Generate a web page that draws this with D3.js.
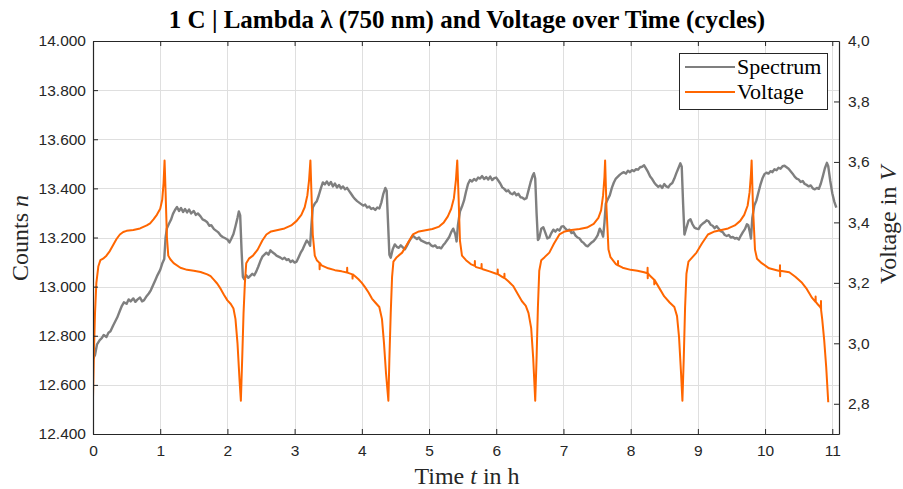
<!DOCTYPE html>
<html>
<head>
<meta charset="utf-8">
<script src="https://cdn.jsdelivr.net/npm/d3@7"></script>
<style>
  html, body { margin: 0; padding: 0; background: #fff; }
  svg { display: block; }
</style>
</head>
<body>
<svg id="chart" width="903" height="489"></svg>
<script>
// ---------------- DATA ----------------
const titleText = "1 C | Lambda λ (750 nm) and Voltage over Time (cycles)";
const seriesNames = ["Spectrum", "Voltage"];
const xTicks = [0, 1, 2, 3, 4, 5, 6, 7, 8, 9, 10, 11];
const leftTicks = [12400, 12600, 12800, 13000, 13200, 13400, 13600, 13800, 14000];
const rightTicks = [2.8, 3.0, 3.2, 3.4, 3.6, 3.8, 4.0];
const xDomain = [0, 11.1];
const leftDomain = [12400, 14000];
const rightDomain = [2.7, 4.0];

// Spectrum counts [time h, counts]
const spectrum = [
  [0.00,12705],[0.03,12722],[0.06,12765],[0.10,12782],[0.13,12790],[0.16,12803],[0.20,12795],[0.23,12812],[0.26,12818],
  [0.30,12842],[0.33,12858],[0.36,12874],[0.40,12902],[0.43,12922],[0.46,12936],[0.50,12930],[0.53,12948],[0.56,12940],
  [0.60,12952],[0.63,12938],[0.66,12947],[0.70,12956],[0.73,12940],[0.76,12945],[0.80,12962],[0.83,12972],[0.86,12985],
  [0.90,13010],[0.93,13028],[0.96,13047],[1.00,13068],[1.03,13094],[1.06,13112],[1.08,13200],[1.10,13238],[1.13,13256],
  [1.16,13272],[1.19,13296],[1.22,13312],[1.25,13324],[1.28,13308],[1.31,13320],[1.34,13304],[1.37,13316],[1.40,13302],
  [1.43,13314],[1.46,13298],[1.50,13308],[1.53,13292],[1.56,13298],[1.60,13286],[1.63,13274],[1.66,13270],[1.70,13262],
  [1.73,13248],[1.76,13250],[1.80,13234],[1.83,13228],[1.86,13222],[1.90,13208],[1.93,13202],[1.96,13198],[2.00,13192],
  [2.03,13180],[2.06,13196],[2.09,13214],[2.12,13246],[2.15,13280],[2.17,13306],[2.19,13290],[2.21,13150],[2.23,13040],
  [2.25,13030],[2.28,13046],[2.31,13036],[2.34,13044],[2.37,13052],[2.40,13046],[2.43,13062],[2.46,13082],[2.49,13104],
  [2.52,13122],[2.55,13130],[2.58,13138],[2.61,13130],[2.64,13148],[2.67,13140],[2.70,13134],[2.73,13126],[2.76,13122],
  [2.79,13118],[2.82,13112],[2.85,13118],[2.88,13108],[2.91,13112],[2.94,13100],[2.97,13106],[3.00,13098],[3.03,13102],
  [3.06,13120],[3.09,13138],[3.12,13152],[3.15,13170],[3.18,13188],[3.21,13178],[3.23,13166],[3.25,13250],[3.27,13322],
  [3.30,13338],[3.33,13348],[3.36,13372],[3.39,13400],[3.42,13424],[3.45,13416],[3.48,13428],[3.51,13414],[3.54,13426],
  [3.57,13408],[3.60,13420],[3.63,13404],[3.66,13414],[3.69,13400],[3.72,13408],[3.75,13396],[3.78,13402],[3.81,13390],
  [3.84,13378],[3.87,13366],[3.90,13356],[3.93,13348],[3.96,13342],[3.99,13336],[4.02,13330],[4.05,13334],[4.08,13322],
  [4.11,13326],[4.14,13316],[4.17,13320],[4.20,13312],[4.23,13322],[4.26,13318],[4.29,13342],[4.32,13378],[4.35,13402],
  [4.37,13390],[4.39,13260],[4.41,13130],[4.43,13118],[4.46,13152],[4.49,13172],[4.52,13162],[4.55,13158],[4.58,13168],
  [4.61,13160],[4.64,13152],[4.67,13166],[4.70,13182],[4.73,13196],[4.76,13208],[4.79,13200],[4.82,13194],[4.85,13200],
  [4.88,13188],[4.91,13184],[4.94,13180],[4.97,13176],[5.00,13178],[5.03,13168],[5.06,13164],[5.09,13168],[5.12,13158],
  [5.15,13160],[5.18,13156],[5.21,13168],[5.24,13178],[5.27,13190],[5.30,13202],[5.33,13222],[5.36,13236],[5.39,13214],
  [5.41,13184],[5.43,13250],[5.46,13306],[5.49,13326],[5.52,13350],[5.55,13386],[5.58,13418],[5.61,13434],[5.64,13428],
  [5.67,13438],[5.70,13432],[5.73,13444],[5.76,13440],[5.79,13450],[5.82,13438],[5.85,13446],[5.88,13436],[5.91,13448],
  [5.94,13434],[5.97,13442],[6.00,13444],[6.03,13432],[6.06,13420],[6.09,13404],[6.12,13398],[6.15,13388],[6.18,13392],
  [6.21,13380],[6.24,13376],[6.27,13384],[6.30,13372],[6.33,13378],[6.36,13364],[6.39,13362],[6.42,13356],[6.45,13360],
  [6.48,13392],[6.51,13424],[6.54,13450],[6.56,13462],[6.58,13440],[6.60,13300],[6.62,13190],[6.64,13198],[6.67,13236],
  [6.70,13242],[6.73,13220],[6.76,13196],[6.79,13200],[6.82,13218],[6.85,13232],[6.88,13224],[6.91,13234],[6.94,13228],
  [6.97,13244],[7.00,13246],[7.03,13236],[7.06,13228],[7.09,13232],[7.12,13218],[7.15,13222],[7.18,13208],[7.21,13200],
  [7.24,13196],[7.27,13184],[7.30,13178],[7.33,13168],[7.36,13164],[7.39,13172],[7.42,13180],[7.45,13186],[7.48,13196],
  [7.51,13210],[7.54,13236],[7.57,13220],[7.59,13204],[7.61,13260],[7.63,13338],[7.66,13356],[7.69,13372],[7.72,13402],
  [7.75,13424],[7.78,13440],[7.81,13448],[7.84,13456],[7.87,13462],[7.90,13466],[7.93,13460],[7.96,13472],[7.99,13466],
  [8.02,13474],[8.05,13470],[8.08,13478],[8.11,13476],[8.14,13486],[8.17,13488],[8.20,13494],[8.23,13480],[8.26,13466],
  [8.29,13448],[8.32,13438],[8.35,13424],[8.38,13414],[8.41,13406],[8.44,13412],[8.47,13402],[8.50,13418],[8.53,13408],
  [8.56,13404],[8.59,13416],[8.62,13422],[8.65,13440],[8.68,13462],[8.71,13482],[8.74,13502],[8.76,13488],[8.78,13340],
  [8.80,13212],[8.83,13240],[8.86,13268],[8.89,13274],[8.92,13254],[8.95,13240],[8.98,13236],[9.01,13234],[9.04,13248],
  [9.07,13256],[9.10,13262],[9.13,13270],[9.16,13266],[9.19,13252],[9.22,13248],[9.25,13238],[9.28,13246],[9.31,13236],
  [9.34,13226],[9.37,13222],[9.40,13210],[9.43,13206],[9.46,13210],[9.49,13200],[9.52,13202],[9.55,13196],[9.58,13198],
  [9.61,13192],[9.64,13208],[9.67,13222],[9.70,13234],[9.73,13254],[9.75,13250],[9.77,13226],[9.79,13196],[9.81,13280],
  [9.84,13330],[9.87,13350],[9.90,13382],[9.93,13414],[9.96,13440],[9.99,13458],[10.02,13464],[10.05,13460],[10.08,13470],
  [10.11,13466],[10.14,13478],[10.17,13474],[10.20,13484],[10.23,13480],[10.26,13490],[10.29,13492],[10.32,13486],
  [10.35,13480],[10.38,13470],[10.41,13460],[10.44,13448],[10.47,13440],[10.50,13436],[10.53,13426],[10.56,13430],
  [10.59,13418],[10.62,13414],[10.65,13408],[10.68,13412],[10.71,13400],[10.74,13396],[10.77,13402],[10.80,13398],
  [10.83,13420],[10.86,13450],[10.89,13482],[10.92,13504],[10.94,13490],[10.97,13430],[11.00,13380],[11.03,13346],[11.06,13322]
];

// Voltage [time h, V]
const voltage = [
  [0.000,2.82],[0.015,2.98],[0.03,3.10],[0.05,3.20],[0.08,3.255],[0.11,3.275],[0.15,3.28],[0.20,3.29],[0.25,3.305],
  [0.30,3.325],[0.35,3.345],[0.40,3.36],[0.45,3.368],[0.50,3.372],[0.60,3.375],[0.70,3.38],[0.80,3.39],[0.85,3.397],
  [0.90,3.41],[0.95,3.425],[1.00,3.445],[1.03,3.475],[1.05,3.53],[1.065,3.605],[1.08,3.50],[1.10,3.35],[1.12,3.29],
  [1.15,3.278],[1.20,3.265],[1.30,3.25],[1.40,3.243],[1.50,3.24],[1.60,3.236],[1.70,3.228],[1.75,3.222],[1.80,3.21],
  [1.85,3.197],[1.90,3.18],[1.95,3.16],[2.00,3.142],[2.05,3.13],[2.09,3.115],[2.12,3.08],[2.15,3.00],[2.18,2.88],[2.20,2.81],
  [2.22,2.95],[2.24,3.10],[2.26,3.20],[2.28,3.265],[2.32,3.28],[2.38,3.29],[2.45,3.31],[2.52,3.34],[2.58,3.36],[2.65,3.37],
  [2.75,3.375],[2.85,3.38],[2.95,3.39],[3.03,3.405],[3.10,3.425],[3.15,3.45],[3.19,3.49],[3.215,3.54],[3.235,3.605],
  [3.25,3.50],[3.27,3.36],[3.30,3.29],[3.33,3.275],[3.37,3.266],[3.372,3.245],[3.374,3.266],[3.40,3.258],[3.50,3.248],
  [3.60,3.242],[3.70,3.238],[3.78,3.234],[3.782,3.25],[3.784,3.234],[3.86,3.228],[3.862,3.214],[3.864,3.228],
  [3.90,3.222],[3.95,3.212],[4.00,3.20],[4.05,3.185],[4.10,3.168],[4.15,3.148],[4.20,3.135],[4.26,3.12],[4.30,3.08],
  [4.33,3.00],[4.36,2.90],[4.395,2.81],
  [4.41,2.95],[4.43,3.10],[4.45,3.22],[4.47,3.27],[4.52,3.285],[4.60,3.30],[4.68,3.33],[4.76,3.36],[4.85,3.37],[4.95,3.374],
  [5.05,3.378],[5.15,3.386],[5.22,3.40],[5.28,3.42],[5.33,3.445],[5.37,3.48],[5.40,3.54],[5.42,3.605],[5.44,3.48],[5.46,3.34],
  [5.49,3.29],[5.55,3.275],[5.62,3.262],[5.68,3.256],[5.682,3.272],[5.684,3.256],[5.70,3.252],[5.78,3.247],[5.782,3.262],
  [5.784,3.247],[5.80,3.245],[5.90,3.238],[6.00,3.23],[6.02,3.229],[6.022,3.244],[6.024,3.229],[6.10,3.218],[6.12,3.216],
  [6.122,3.23],[6.124,3.216],[6.18,3.205],[6.25,3.19],[6.32,3.163],[6.38,3.14],[6.44,3.124],[6.48,3.10],[6.52,3.05],
  [6.55,2.95],[6.58,2.81],
  [6.60,2.95],[6.62,3.12],[6.64,3.24],[6.67,3.275],[6.72,3.285],[6.79,3.30],[6.86,3.33],[6.94,3.36],[7.02,3.37],[7.12,3.375],
  [7.24,3.378],[7.35,3.383],[7.45,3.395],[7.52,3.415],[7.56,3.44],[7.59,3.49],[7.61,3.55],[7.62,3.605],[7.64,3.45],[7.67,3.31],
  [7.70,3.285],[7.78,3.262],[7.81,3.258],[7.812,3.272],[7.814,3.258],[7.88,3.25],[8.00,3.243],[8.10,3.24],[8.20,3.235],
  [8.25,3.232],[8.252,3.25],[8.254,3.215],[8.256,3.232],[8.28,3.225],[8.35,3.21],[8.352,3.195],[8.354,3.21],[8.42,3.185],
  [8.50,3.155],[8.58,3.135],[8.65,3.12],[8.69,3.09],[8.72,3.02],[8.75,2.90],[8.77,2.81],
  [8.79,2.95],[8.81,3.12],[8.83,3.23],[8.86,3.27],[8.92,3.285],[8.98,3.30],[9.06,3.33],[9.15,3.36],[9.25,3.37],[9.35,3.375],
  [9.45,3.38],[9.55,3.39],[9.63,3.405],[9.69,3.425],[9.74,3.455],[9.77,3.50],[9.79,3.56],[9.80,3.605],[9.82,3.45],[9.85,3.31],
  [9.88,3.28],[9.95,3.265],[10.06,3.248],[10.20,3.24],[10.22,3.24],[10.222,3.258],[10.224,3.222],[10.226,3.24],[10.36,3.235],
  [10.45,3.22],[10.55,3.20],[10.62,3.18],[10.70,3.15],[10.75,3.137],[10.752,3.155],[10.754,3.137],[10.78,3.13],[10.82,3.12],
  [10.83,3.116],[10.832,3.14],[10.834,3.11],[10.85,3.08],[10.88,3.01],[10.91,2.92],[10.94,2.805]
];

// ---------------- DRAW ----------------
const W = 903, H = 489;
const plot = { left: 93, right: 839, top: 41, bottom: 434 };
const svg = d3.select("#chart");

const x = d3.scaleLinear().domain(xDomain).range([plot.left, plot.right]);
const yL = d3.scaleLinear().domain(leftDomain).range([plot.bottom, plot.top]);
const yR = d3.scaleLinear().domain(rightDomain).range([plot.bottom, plot.top]);

const loc = d3.formatLocale({ decimal: ",", thousands: ".", grouping: [3], currency: ["", ""] });
const fmtL = loc.format(",.0f");
const fmtR = loc.format(".1f");

const axisColor = "#262626";
const gridColor = "#dfdfdf";
const tickFont = "'Liberation Sans', Arial, sans-serif";
const serif = "'Liberation Serif', 'Times New Roman', serif";

// background
svg.append("rect").attr("x", plot.left).attr("y", plot.top)
  .attr("width", plot.right - plot.left).attr("height", plot.bottom - plot.top).attr("fill", "#fff");

// grid
const grid = svg.append("g");
grid.selectAll("line.vx").data(xTicks).join("line")
  .attr("x1", d => Math.round(x(d)) + 0.5).attr("x2", d => Math.round(x(d)) + 0.5)
  .attr("y1", plot.top).attr("y2", plot.bottom)
  .attr("stroke", gridColor).attr("stroke-width", 1);
grid.selectAll("line.hy").data(leftTicks).join("line")
  .attr("y1", d => Math.round(yL(d)) + 0.5).attr("y2", d => Math.round(yL(d)) + 0.5)
  .attr("x1", plot.left).attr("x2", plot.right)
  .attr("stroke", gridColor).attr("stroke-width", 1);

// lines
svg.append("clipPath").attr("id", "clip").append("rect")
  .attr("x", plot.left).attr("y", plot.top).attr("width", plot.right - plot.left).attr("height", plot.bottom - plot.top);

const lineL = d3.line().x(d => x(d[0])).y(d => yL(d[1]));
const lineR = d3.line().x(d => x(d[0])).y(d => yR(d[1]));

svg.append("path").datum(spectrum).attr("d", lineL)
  .attr("fill", "none").attr("stroke", "#7f7f7f").attr("stroke-width", 2.4)
  .attr("stroke-linejoin", "round").attr("clip-path", "url(#clip)");
svg.append("path").datum(voltage).attr("d", lineR)
  .attr("fill", "none").attr("stroke", "#ff6600").attr("stroke-width", 2)
  .attr("stroke-linejoin", "round").attr("clip-path", "url(#clip)");

// axes
function styleAxis(g) {
  g.selectAll("path.domain").attr("stroke", axisColor).attr("stroke-width", 1.2);
  g.selectAll(".tick line").attr("stroke", axisColor).attr("stroke-width", 1);
  g.selectAll(".tick text").attr("fill", axisColor).style("font-family", tickFont).style("font-size", "15.5px");
}

const gB = svg.append("g").attr("transform", `translate(0,${plot.bottom})`)
  .call(d3.axisBottom(x).tickValues(xTicks).tickFormat(d3.format("d")).tickSize(-5).tickSizeOuter(0).tickPadding(11));
styleAxis(gB);
const gT = svg.append("g").attr("transform", `translate(0,${plot.top})`)
  .call(d3.axisTop(x).tickValues(xTicks).tickFormat("").tickSize(-5).tickSizeOuter(0));
styleAxis(gT);
const gL = svg.append("g").attr("transform", `translate(${plot.left},0)`)
  .call(d3.axisLeft(yL).tickValues(leftTicks).tickFormat(fmtL).tickSize(-5).tickSizeOuter(0).tickPadding(7));
styleAxis(gL);
const gR = svg.append("g").attr("transform", `translate(${plot.right},0)`)
  .call(d3.axisRight(yR).tickValues(rightTicks).tickFormat(fmtR).tickSize(-5).tickSizeOuter(0).tickPadding(9));
styleAxis(gR);

// title
svg.append("text").attr("x", 467).attr("y", 28).attr("text-anchor", "middle")
  .style("font-family", serif).style("font-size", "25px").style("font-weight", "bold").attr("fill", "#000")
  .text(titleText);

// axis labels
const xl = svg.append("text").attr("x", 467).attr("y", 484).attr("text-anchor", "middle")
  .style("font-family", serif).style("font-size", "24px").attr("fill", axisColor);
xl.append("tspan").text("Time ");
xl.append("tspan").style("font-style", "italic").text("t");
xl.append("tspan").text(" in h");

const yl = svg.append("text").attr("transform", "translate(28,238) rotate(-90)").attr("text-anchor", "middle")
  .style("font-family", serif).style("font-size", "24px").attr("fill", axisColor);
yl.append("tspan").text("Counts ");
yl.append("tspan").style("font-style", "italic").text("n");

const yr = svg.append("text").attr("transform", "translate(896,225) rotate(-90)").attr("text-anchor", "middle")
  .style("font-family", serif).style("font-size", "24px").attr("fill", axisColor);
yr.append("tspan").text("Voltage in ");
yr.append("tspan").style("font-style", "italic").text("V");

// legend
const leg = svg.append("g");
leg.append("rect").attr("x", 679.5).attr("y", 53.5).attr("width", 148).attr("height", 56)
  .attr("fill", "#fff").attr("stroke", axisColor).attr("stroke-width", 1);
const legColors = ["#7f7f7f", "#ff6600"];
seriesNames.forEach((name, i) => {
  const yy = 67 + i * 25;
  leg.append("line").attr("x1", 685).attr("x2", 735).attr("y1", yy).attr("y2", yy)
    .attr("stroke", legColors[i]).attr("stroke-width", 2);
  leg.append("text").attr("x", 737).attr("y", yy + 7).style("font-family", serif)
    .style("font-size", "22px").attr("fill", "#000").text(name);
});
</script>
</body>
</html>
